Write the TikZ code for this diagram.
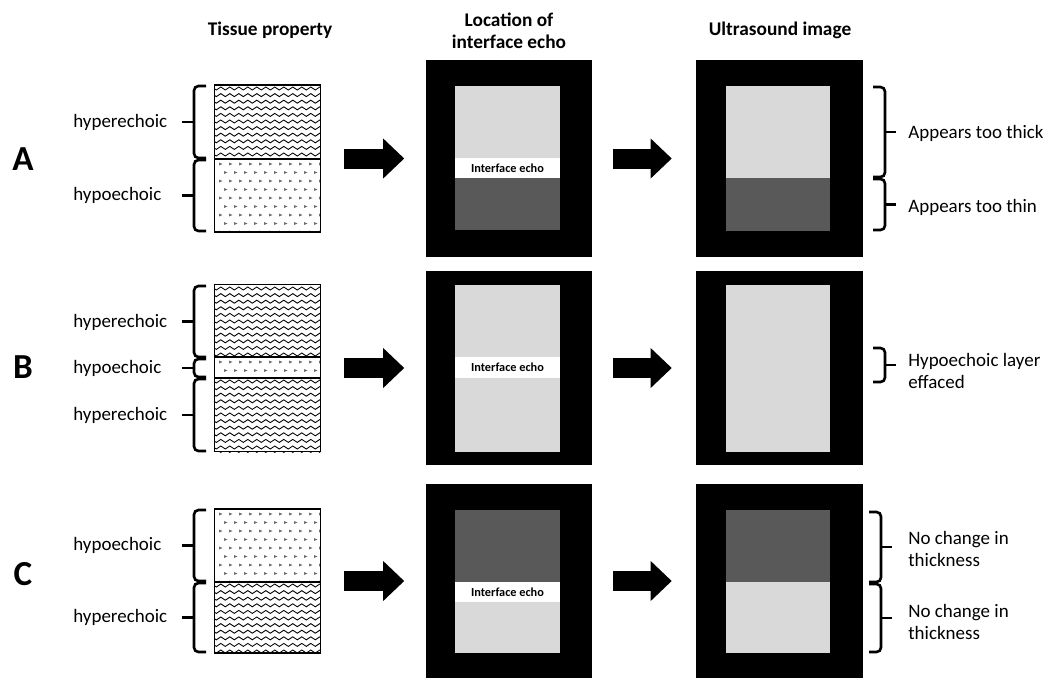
\documentclass[tikz,border=0pt]{standalone}
\usepackage{fontspec}
\setmainfont{Carlito}
\usepackage{tikz}
\usetikzlibrary{positioning}
\usetikzlibrary{calc}
\usetikzlibrary{arrows.meta}
\usetikzlibrary{decorations.pathmorphing}

\definecolor{lightecho}{RGB}{217,217,217}
\definecolor{darkecho}{RGB}{89,89,89}
\definecolor{dotgray}{RGB}{110,110,110}

\tikzset{
  tissue/.style={draw, line width=1pt, minimum width=2.12cm, inner sep=0pt},
  usframe/.style={fill=black, minimum width=3.34cm, inner sep=0pt},
  wave/.style={decorate, decoration={snake, segment length=0.18cm, amplitude=0.03cm}, line width=0.5pt},
  bracestroke/.style={line width=1.5pt, rounded corners=0.09cm},
  bigarrow/.style={line width=0.4cm, -{Triangle[length=0.42cm, width=0.8cm, line width=0pt]}},
  lbl/.style={font=\fontsize{10.8}{12.5}\selectfont, anchor=west, inner sep=0pt, align=left},
  head/.style={font=\bfseries\fontsize{11}{12.5}\selectfont, align=center, inner sep=0pt},
  rowletter/.style={font=\bfseries\fontsize{20}{24}\selectfont, inner sep=0pt},
  echotext/.style={font=\bfseries\fontsize{7}{8}\selectfont, inner sep=0pt}
}

% wavy lines for a hyperechoic layer: x1, y1, x2, y2
\newcommand{\hyperlayer}[4]{%
  \begin{scope}
    \clip (#1,#2) rectangle (#3,#4);
    \pgfmathtruncatemacro{\nrows}{(#4-#2)/6.6}
    \foreach \r in {0,...,\nrows}
      \draw[wave] (#1-6,{#2+3.5+6.6*\r}) -- (#3+6,{#2+3.5+6.6*\r});
  \end{scope}}

% sparse grey marks for a hypoechoic layer: x1, y1, x2, y2
\newcommand{\hypolayer}[4]{%
  \begin{scope}
    \clip (#1,#2) rectangle (#3,#4);
    \pgfmathtruncatemacro{\nrows}{(#4-#2)/8.5}
    \foreach \r in {0,...,\nrows}
      \foreach \c in {0,...,11}
        \fill[dotgray] ({#1+4+10*\c+5*mod(\r,2)},{#2+3.5+8.5*\r}) -- ++(3.5,1.5) -- ++(-3.5,1.5) -- cycle;
  \end{scope}}

% brace opening to the right: x of ends, top y, bottom y
\newcommand{\leftbrace}[3]{%
  \draw[bracestroke] (#1,#2) -- (#1-12,#2) -- (#1-12,#3) -- (#1,#3);
  \draw[line width=1.5pt] (#1-12,{(#2+#3)/2}) -- (#1-24,{(#2+#3)/2});}

% brace opening to the left: x of ends, top y, bottom y
\newcommand{\rightbrace}[3]{%
  \draw[bracestroke] (#1,#2) -- (#1+12,#2) -- (#1+12,#3) -- (#1,#3);
  \draw[line width=1.5pt] (#1+12,{(#2+#3)/2}) -- (#1+23,{(#2+#3)/2});}

\begin{document}
\begin{tikzpicture}[x=0.02cm, y=-0.02cm]
    \useasboundingbox (0,0) rectangle (1051,677);

    % column heads
    \node[head] (headTis) at (270,30) {Tissue property};
    \node[head] (headEcho) at (509,31) {Location of\\interface echo};
    \node[head] (headUS) at (780,30) {Ultrasound image};

    % ---- row A
    \node[rowletter] (letA) at (23,159) {A};
    \hyperlayer{215}{85}{320}{159}
    \hypolayer{215}{159}{320}{232}
    \node[tissue, minimum height=2.94cm] (tisA) at (267.5,158.5) {};
    \draw[line width=1.2pt] (215,159) -- (320,159);

    \node[usframe, minimum height=3.94cm] (echoA) at (509,158.5) {};
    \fill[lightecho] (455,86) rectangle (560,158);
    \fill[white] (455,158) rectangle (560,178);
    \fill[darkecho] (455,178) rectangle (560,230);
    \node[echotext] (bandA) at (507.5,168) {Interface echo};

    \node[usframe, minimum height=3.94cm] (usA) at (779.5,158.5) {};
    \fill[lightecho] (726,86) rectangle (830,178);
    \fill[darkecho] (726,178) rectangle (830,231);

    \draw[bigarrow, shorten <=0.46cm, shorten >=0.42cm] (tisA) -- (echoA);
    \draw[bigarrow, shorten <=0.4cm, shorten >=0.48cm] (echoA) -- (usA);

    \leftbrace{206}{86}{158}
    \leftbrace{206}{160}{231}
    \node[lbl] (hyperA) at (73,122) {hyperechoic};
    \node[lbl] (hypoA) at (73,195) {hypoechoic};

    \rightbrace{873}{87}{177}
    \rightbrace{873}{179}{230}
    \node[lbl] (thickA) at (908,133) {Appears too thick};
    \node[lbl] (thinA) at (908,207) {Appears too thin};

    % ---- row B
    \node[rowletter] (letB) at (23,367) {B};
    \hyperlayer{215}{285}{320}{357}
    \hypolayer{215}{357}{320}{378}
    \hyperlayer{215}{378}{320}{452}
    \node[tissue, minimum height=3.34cm] (tisB) at (267.5,368) {};
    \draw[line width=1.2pt] (215,357) -- (320,357);
    \draw[line width=1.2pt] (215,378) -- (320,378);

    \node[usframe, minimum height=3.9cm] (echoB) at (509,368) {};
    \fill[lightecho] (455,285) rectangle (560,357);
    \fill[white] (455,357) rectangle (560,378);
    \fill[lightecho] (455,378) rectangle (560,452);
    \node[echotext] (bandB) at (507.5,367.5) {Interface echo};

    \node[usframe, minimum height=3.9cm] (usB) at (779.5,368) {};
    \fill[lightecho] (726,285) rectangle (830,452);

    \draw[bigarrow, shorten <=0.46cm, shorten >=0.42cm] (tisB) -- (echoB);
    \draw[bigarrow, shorten <=0.4cm, shorten >=0.48cm] (echoB) -- (usB);

    \leftbrace{206}{286}{357}
    \leftbrace{206}{359}{377}
    \leftbrace{206}{379}{451}
    \node[lbl] (hyperB1) at (73,322) {hyperechoic};
    \node[lbl] (hypoB) at (73,368) {hypoechoic};
    \node[lbl] (hyperB2) at (73,415) {hyperechoic};

    \rightbrace{873}{348}{382}
    \node[lbl] (effB) at (908,371) {Hypoechoic layer\\effaced};

    % ---- row C
    \node[rowletter] (letC) at (23,574) {C};
    \hypolayer{215}{509}{320}{582}
    \hyperlayer{215}{582}{320}{653}
    \node[tissue, minimum height=2.88cm] (tisC) at (267.5,581) {};
    \draw[line width=1.2pt] (215,582) -- (320,582);

    \node[usframe, minimum height=3.9cm] (echoC) at (509,581) {};
    \fill[darkecho] (455,510) rectangle (560,582);
    \fill[white] (455,582) rectangle (560,602);
    \fill[lightecho] (455,602) rectangle (560,653);
    \node[echotext] (bandC) at (507.5,592) {Interface echo};

    \node[usframe, minimum height=3.9cm] (usC) at (779.5,581) {};
    \fill[darkecho] (726,510) rectangle (830,582);
    \fill[lightecho] (726,582) rectangle (830,653);

    \draw[bigarrow, shorten <=0.46cm, shorten >=0.42cm] (tisC) -- (echoC);
    \draw[bigarrow, shorten <=0.4cm, shorten >=0.48cm] (echoC) -- (usC);

    \leftbrace{206}{510}{581}
    \leftbrace{206}{583}{652}
    \node[lbl] (hypoC) at (73,545) {hypoechoic};
    \node[lbl] (hyperC) at (73,617) {hyperechoic};

    \rightbrace{869}{512}{582}
    \rightbrace{869}{584}{652}
    \node[lbl] (sameC1) at (908,549) {No change in\\thickness};
    \node[lbl] (sameC2) at (908,622) {No change in\\thickness};
\end{tikzpicture}
\end{document}
